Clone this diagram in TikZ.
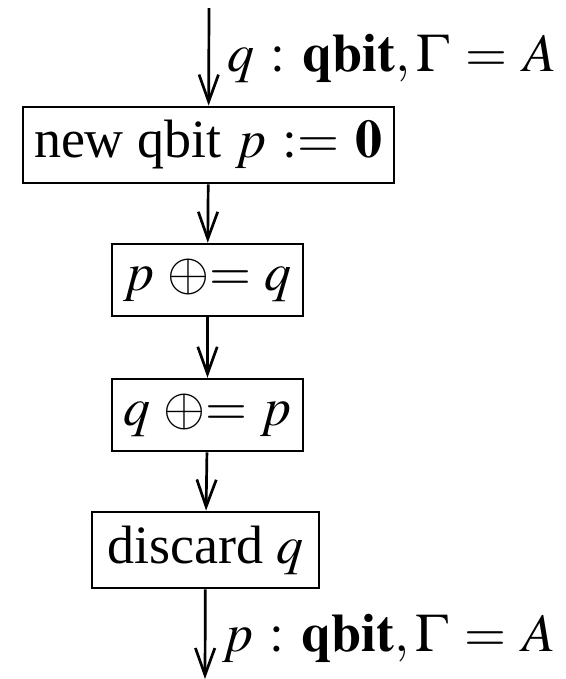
\documentclass[tikz,border=0pt]{standalone}
\usepackage{mathptmx}
\usepackage{fontspec}
\setmainfont{Liberation Serif}
\usetikzlibrary{arrows.meta}
\begin{document}
\thickmuskip=5.5mu
\begin{tikzpicture}[x=0.1852pt,y=-0.1852pt, line width=0.5pt,
  opbox/.style={draw, inner sep=0pt, minimum height=14.1pt},
  flow/.style={-{Straight Barb[length=5pt,width=3.6pt]}},
  typelabel/.style={anchor=base west, inner sep=0pt}]
\useasboundingbox (0,0) rectangle (566,679);
\node[opbox, minimum width=68.7pt] (n1) at (208.5,145) {new qbit $p := \mathbf{0}$};
\node[opbox, minimum width=35.4pt, minimum height=13.3pt] (n2) at (207.5,280) {$p\mkern4.5mu{\oplus}{=}\mkern4.5mu q$};
\node[opbox, minimum width=35.4pt, minimum height=13.3pt] (n3) at (207.5,415) {$q\mkern4.5mu{\oplus}{=}\mkern4.5mu p$};
\node[opbox, minimum width=42pt] (n4) at (205.5,550) {discard $q$};
\coordinate (top) at (209,8);
\coordinate (bot) at (205,679);
\draw[flow] (top) -- (n1);
\draw[flow] (n1) -- (n2);
\draw[flow] (n2) -- (n3);
\draw[flow] (n3) -- (n4);
\draw[flow] (n4) -- (bot);
\node[typelabel] (lin) at (226,71) {$q : \mathbf{qbit}, \Gamma = A$};
\node[typelabel] (lout) at (221,651) {$p : \mathbf{qbit}, \Gamma = A$};
\end{tikzpicture}
\end{document}
